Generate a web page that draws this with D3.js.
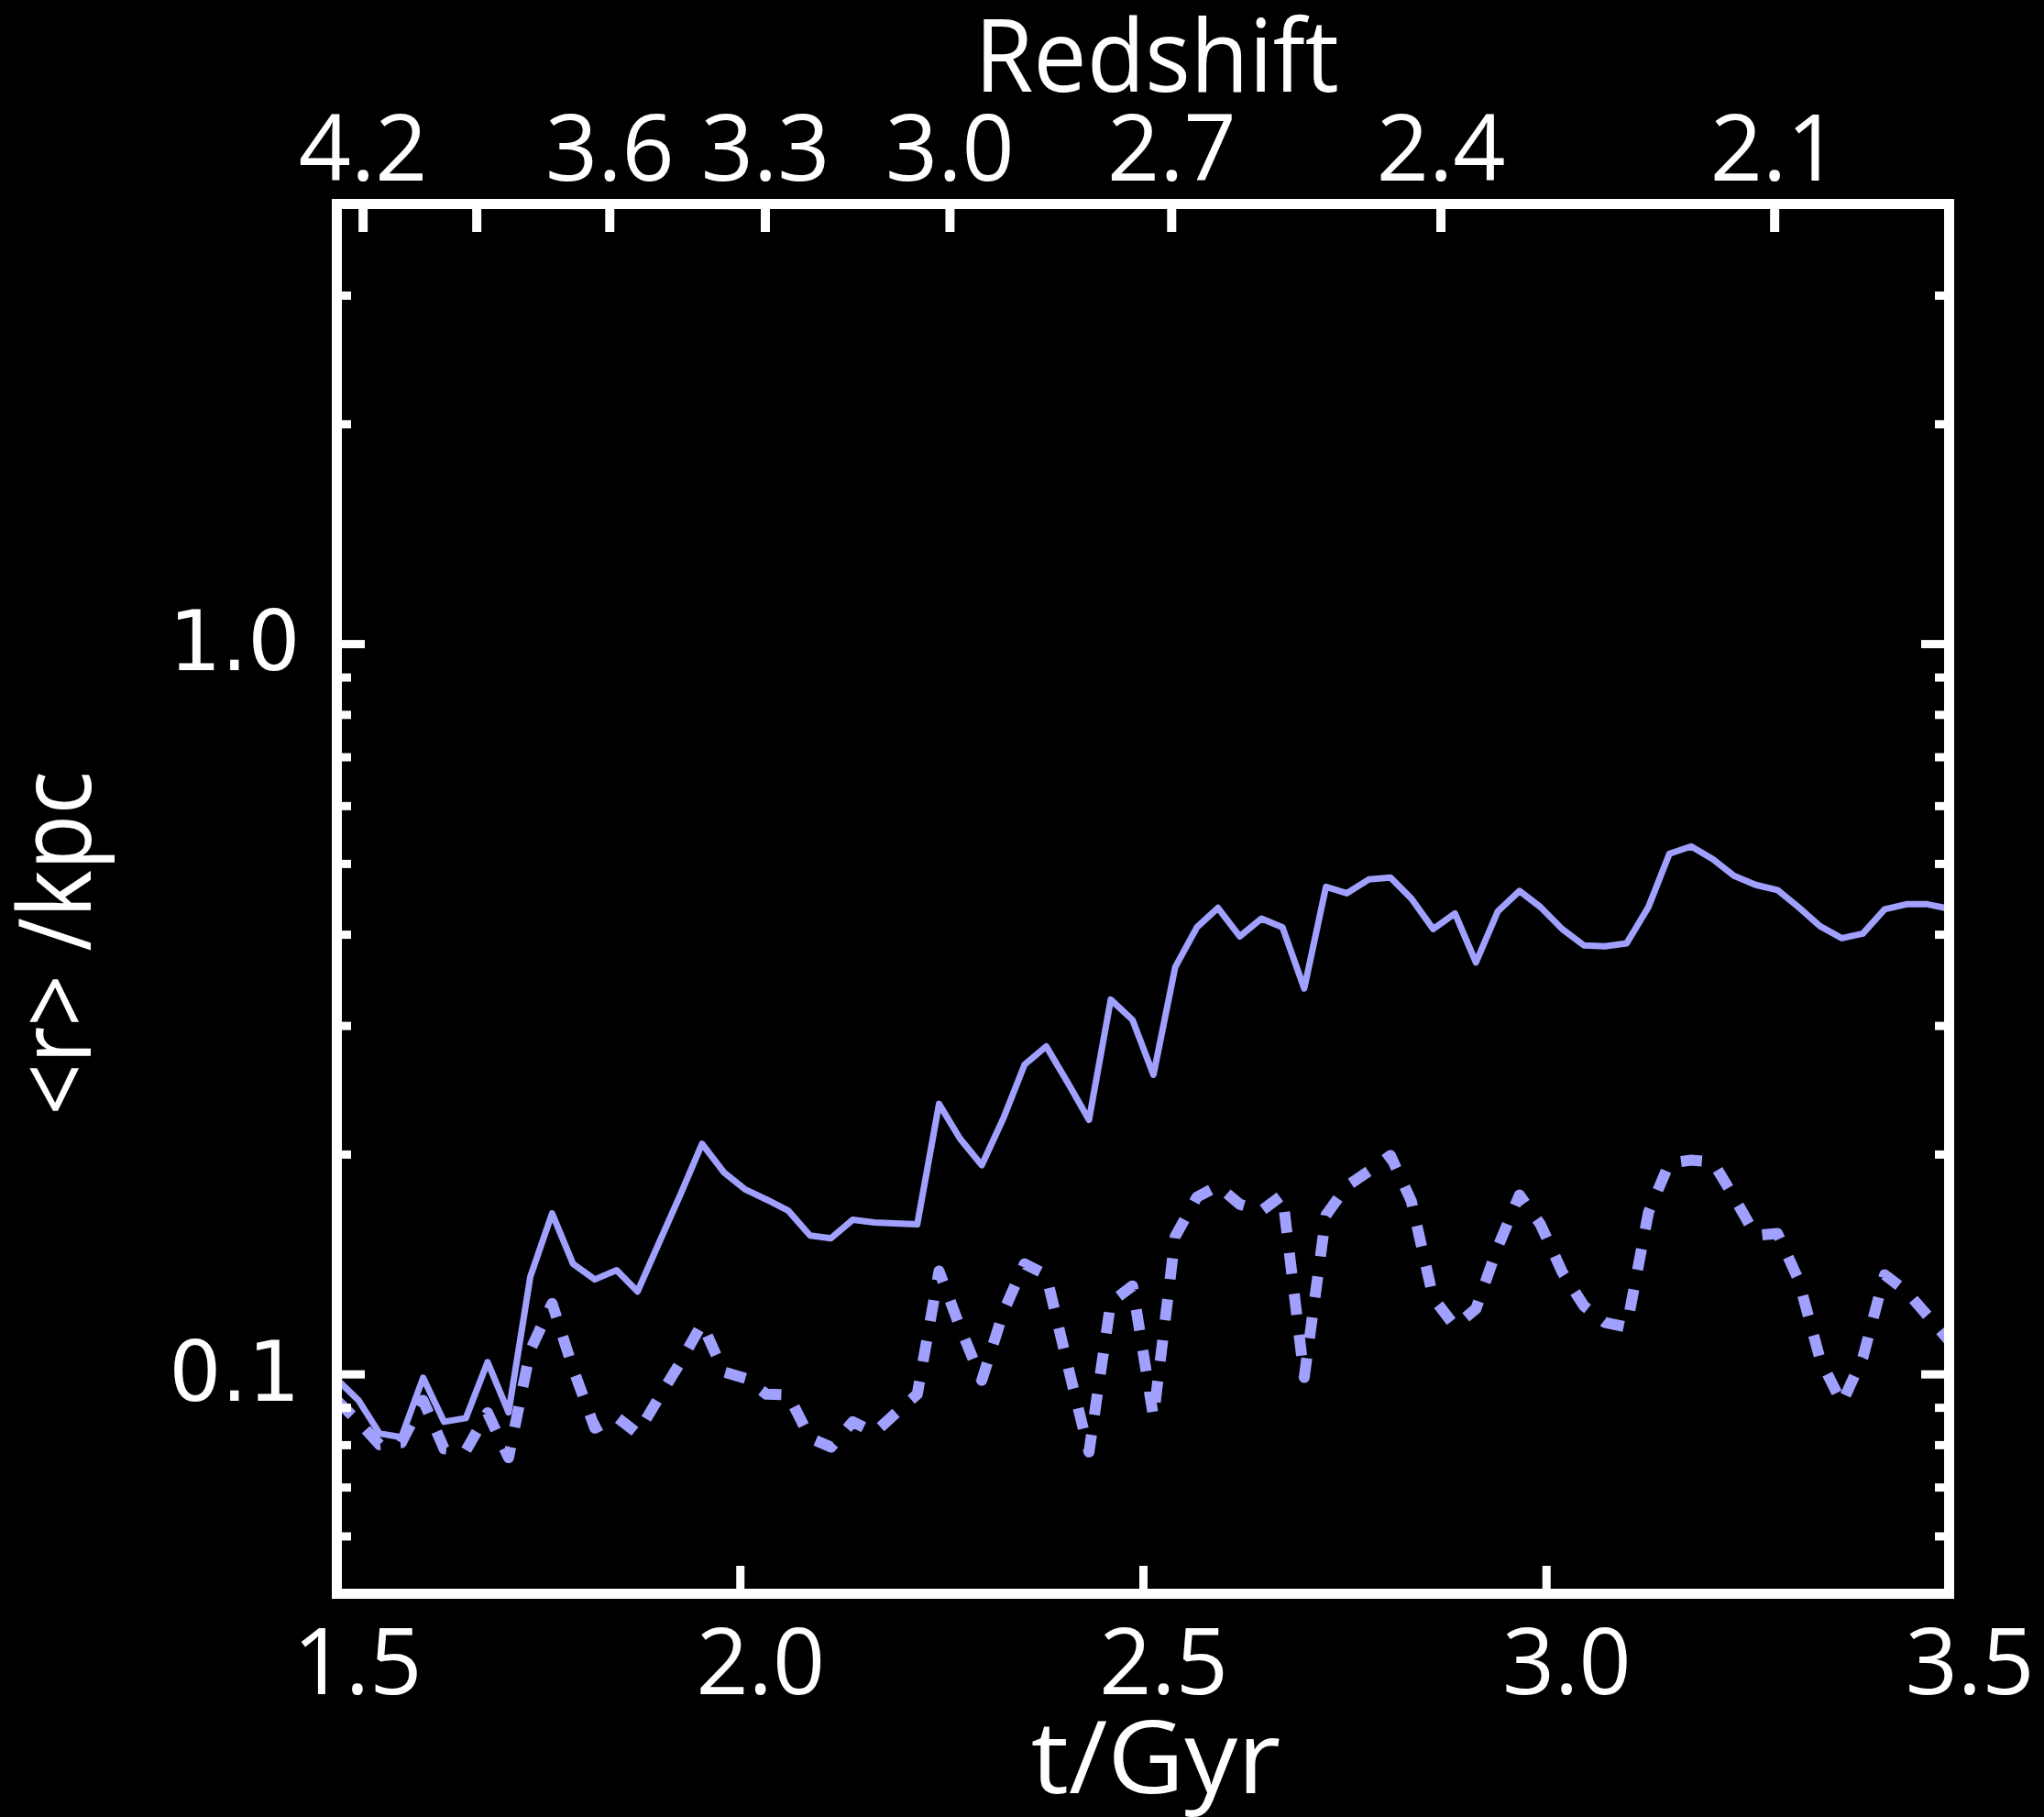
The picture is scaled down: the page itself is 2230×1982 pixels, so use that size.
<!DOCTYPE html>
<html>
<head>
<meta charset="utf-8">
<script src="https://cdn.jsdelivr.net/npm/d3@7"></script>
<style>
  html, body { margin: 0; padding: 0; background: #000; }
  svg { display: block; }
</style>
</head>
<body>
<svg id="chart" width="2230" height="1982"></svg>
<script>
// Snapshot times (Gyr)
const times = [
  1.500, 1.527, 1.553, 1.580, 1.607, 1.633, 1.660, 1.687, 1.713, 1.740,
  1.767, 1.793, 1.820, 1.847, 1.873, 1.900, 1.927, 1.953, 1.980, 2.007,
  2.033, 2.060, 2.087, 2.113, 2.140, 2.167, 2.193, 2.220, 2.247, 2.273,
  2.300, 2.327, 2.353, 2.380, 2.407, 2.433, 2.460, 2.487, 2.513, 2.540,
  2.567, 2.593, 2.620, 2.647, 2.673, 2.700, 2.727, 2.753, 2.780, 2.807,
  2.833, 2.860, 2.887, 2.913, 2.940, 2.967, 2.993, 3.020, 3.047, 3.073,
  3.100, 3.127, 3.153, 3.180, 3.207, 3.233, 3.260, 3.287, 3.313, 3.340,
  3.367, 3.393, 3.420, 3.447, 3.473, 3.500
];

// Mean radius <r> in kpc, solid curve
const rSolid = [
  0.0983, 0.0920, 0.0829, 0.0819, 0.0988, 0.0860, 0.0870, 0.1038, 0.0886, 0.1359,
  0.1659, 0.1415, 0.1347, 0.1387, 0.1297, 0.1515, 0.1769, 0.2066, 0.1889, 0.1788,
  0.1733, 0.1673, 0.1547, 0.1534, 0.1626, 0.1612, 0.1607, 0.1603, 0.2343, 0.2100,
  0.1931, 0.2241, 0.2651, 0.2809, 0.2502, 0.2228, 0.3255, 0.3054, 0.2568, 0.3607,
  0.4090, 0.4347, 0.3973, 0.4203, 0.4090, 0.3371, 0.4646, 0.4553, 0.4754, 0.4782,
  0.4476, 0.4067, 0.4272, 0.3659, 0.4297, 0.4585, 0.4359, 0.4067, 0.3862, 0.3851,
  0.3888, 0.4359, 0.5156, 0.5277, 0.5068, 0.4811, 0.4674, 0.4599, 0.4359, 0.4102,
  0.3950, 0.4009, 0.4327, 0.4397, 0.4397, 0.4335
];

// Mean radius <r> in kpc, dashed curve
const rDashed = [
  0.0920, 0.0860, 0.0800, 0.0805, 0.0920, 0.0790, 0.0785, 0.0885, 0.0768, 0.1078,
  0.1249, 0.1017, 0.0843, 0.0873, 0.0829, 0.0930, 0.1041, 0.1172, 0.1006, 0.0986,
  0.0938, 0.0936, 0.0817, 0.0794, 0.0860, 0.0831, 0.0883, 0.0938, 0.1383, 0.1159,
  0.0980, 0.1217, 0.1415, 0.1367, 0.1023, 0.0782, 0.1253, 0.1320, 0.0873, 0.1543,
  0.1747, 0.1809, 0.1707, 0.1673, 0.1758, 0.0989, 0.1650, 0.1809, 0.1895, 0.1991,
  0.1723, 0.1271, 0.1162, 0.1228, 0.1491, 0.1758, 0.1603, 0.1379, 0.1239, 0.1176,
  0.1159, 0.1664, 0.1945, 0.1962, 0.1951, 0.1747, 0.1547, 0.1557, 0.1347, 0.1047,
  0.0912, 0.1053, 0.1367, 0.1297, 0.1203, 0.1110
];

// Axis ticks
const xTickLabels = [1.5, 2.0, 2.5, 3.0, 3.5];
const xTickMarks = [2.0, 2.5, 3.0];
const yMajorTicks = [0.1, 1.0];
const yMinorTicks = [0.06, 0.07, 0.08, 0.09, 0.2, 0.3, 0.4, 0.5, 0.6, 0.7, 0.8, 0.9, 2, 3];

// Redshift scale on the top axis: label and the cosmic time it sits at
const redshiftLabels = ["4.2", "3.9", "3.6", "3.3", "3.0", "2.7", "2.4", "2.1"];
const redshiftTimes  = [1.532, 1.673, 1.838, 2.031, 2.260, 2.535, 2.869, 3.283];
const redshiftShown  = [true, false, true, true, true, true, true, true];

const W = 2230, H = 1982;
const frame = { left: 367.5, right: 2126.5, top: 222.5, bottom: 1738.5 };
const frameWidth = 11;
const half = frameWidth / 2;
const majorLen = 25 + half, minorLen = 10 + half;

const lineColor = "#a0a0ff";
const titleFont = "'Open Sans', 'DejaVu Sans', sans-serif";
const yTickFont = "'DejaVu Sans', sans-serif";

const svg = d3.select("#chart");
svg.append("rect").attr("width", W).attr("height", H).attr("fill", "#000");

const x = d3.scaleLinear().domain([1.5, 3.5]).range([frame.left, frame.right]);
const y = d3.scaleLog().domain([0.05, 4.0]).range([frame.bottom, frame.top]);

// clip curves to the inside of the frame
svg.append("clipPath").attr("id", "plotClip")
  .append("rect")
  .attr("x", frame.left).attr("y", frame.top)
  .attr("width", frame.right - frame.left).attr("height", frame.bottom - frame.top);

const line = d3.line().x(d => x(d[0])).y(d => y(d[1]));
const solidPts = times.map((t, i) => [t, rSolid[i]]);
const dashedPts = times.map((t, i) => [t, rDashed[i]]);

const curves = svg.append("g").attr("clip-path", "url(#plotClip)");
curves.append("path")
  .attr("d", line(dashedPts))
  .attr("fill", "none")
  .attr("stroke", lineColor)
  .attr("stroke-width", 12)
  .attr("stroke-dasharray", "23,22")
  .attr("stroke-linejoin", "round")
  .attr("stroke-linecap", "butt");
curves.append("path")
  .attr("d", line(solidPts))
  .attr("fill", "none")
  .attr("stroke", lineColor)
  .attr("stroke-width", 7)
  .attr("stroke-linejoin", "round")
  .attr("stroke-linecap", "round");

function styleTicks(g, width) {
  g.select(".domain").remove();
  g.selectAll(".tick line").attr("stroke", "#fff").attr("stroke-width", width);
}

// bottom: inward tick marks
svg.append("g")
  .attr("transform", `translate(0,${frame.bottom})`)
  .call(d3.axisBottom(x).tickValues(xTickMarks).tickSize(-majorLen).tickFormat(""))
  .call(g => styleTicks(g, 9));

// bottom: time labels
svg.append("g")
  .attr("transform", `translate(0,${frame.bottom})`)
  .call(d3.axisBottom(x).tickValues(xTickLabels).tickSize(0).tickFormat(d3.format(".1f")))
  .call(g => {
    g.select(".domain").remove();
    g.selectAll(".tick line").remove();
    g.selectAll(".tick text")
      .attr("y", 109.5).attr("dy", 0).attr("dx", 22)
      .attr("fill", "#fff")
      .style("font-family", titleFont).style("font-size", "100px");
  });

// top: redshift ticks and labels
svg.append("g")
  .attr("transform", `translate(0,${frame.top})`)
  .call(d3.axisTop(x).tickValues(redshiftTimes).tickSize(-majorLen).tickPadding(25.5)
    .tickFormat((d, i) => redshiftShown[i] ? redshiftLabels[i] : ""))
  .call(g => {
    styleTicks(g, 10);
    g.selectAll(".tick text")
      .attr("fill", "#fff")
      .style("font-family", titleFont).style("font-size", "100px");
  });

// left and right: log ticks
function yTicks(axisFn, xPos) {
  svg.append("g")
    .attr("transform", `translate(${xPos},0)`)
    .call(axisFn(y).tickValues(yMajorTicks).tickSize(-majorLen).tickFormat(""))
    .call(g => styleTicks(g, 9));
  svg.append("g")
    .attr("transform", `translate(${xPos},0)`)
    .call(axisFn(y).tickValues(yMinorTicks).tickSize(-minorLen).tickFormat(""))
    .call(g => styleTicks(g, 9));
}
yTicks(d3.axisLeft, frame.left);
yTicks(d3.axisRight, frame.right);

// left: value labels
svg.append("g")
  .attr("transform", `translate(${frame.left},0)`)
  .call(d3.axisLeft(y).tickValues(yMajorTicks).tickSize(0).tickPadding(40).tickFormat(d3.format(".1f")))
  .call(g => {
    g.select(".domain").remove();
    g.selectAll(".tick text")
      .attr("fill", "#fff")
      .style("font-family", yTickFont).style("font-size", "90px");
  });

// frame
svg.append("rect")
  .attr("x", frame.left).attr("y", frame.top)
  .attr("width", frame.right - frame.left).attr("height", frame.bottom - frame.top)
  .attr("fill", "none").attr("stroke", "#fff").attr("stroke-width", frameWidth);

// axis titles (slight horizontal scaling to the title face's proportions)
function title(transform, str, size) {
  svg.append("text")
    .attr("transform", transform)
    .attr("text-anchor", "middle")
    .attr("fill", "#fff")
    .style("font-family", titleFont).style("font-size", size + "px")
    .text(str);
}
title("translate(1262,100) scale(0.945,1)", "Redshift", 110);
title("translate(1261,1956) scale(1.05,1)", "t/Gyr", 110);
title("translate(99,1029) rotate(-90) scale(0.9,1)", "<r> /kpc", 110);
</script>
</body>
</html>
